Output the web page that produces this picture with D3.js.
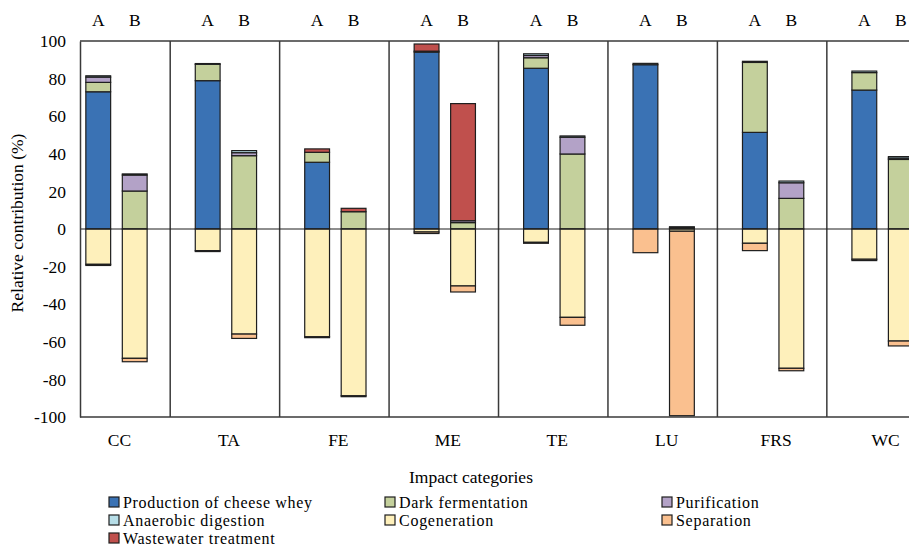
<!DOCTYPE html>
<html>
<head>
<meta charset="utf-8">
<script src="https://cdn.jsdelivr.net/npm/d3@7"></script>
<style>
  html, body { margin: 0; padding: 0; background: #fff; }
  svg { display: block; overflow: hidden; }
</style>
</head>
<body>
<svg id="chart" width="909" height="547"></svg>
<script>
// ---------------- data ----------------
const categories = ["CC", "TA", "FE", "ME", "TE", "LU", "FRS", "WC"];
const scenarios = ["A", "B"];
const yTicks = [-100, -80, -60, -40, -20, 0, 20, 40, 60, 80, 100];

// values per bar, order: CC-A, CC-B, TA-A, TA-B, ... WC-A, WC-B
const cheeseWhey         = [73.0, 0,    78.9, 0,    35.5, 0,    94.1, 0,    85.5, 0,    87.4, 0,     51.4, 0,    73.9, 0];
const darkFermentation   = [5.0,  20.2, 8.7,  39.0, 5.3,  9.2,  0,    3.4,  5.6,  39.9, 0,    0.7,   37.2, 16.3, 9.3,  37.0];
const purification       = [2.8,  8.5,  0,    1.6,  0,    0,    0,    1.0,  1.2,  8.9,  0,    0,     0,    8.3,  0,    0.7];
const anaerobicDigestion = [0.7,  0.6,  0.4,  1.1,  0,    0,    0.5,  0,    0.9,  0.7,  0.7,  0.5,   0.6,  0.9,  0.8,  0.8];
const cogeneration       = [-18.8,-68.8,-11.5,-55.9,-57.3,-88.7,-1.6, -30.3,-7.1, -47.0,0,    -1.2,  -7.6, -74.1,-16.1,-59.6];
const separation         = [-0.6, -1.8, -0.5, -2.3, -0.5, -0.5, -0.8, -3.2, -0.5, -4.2, -12.6,-98.1, -3.9, -1.3, -0.7, -2.6];
const wastewater         = [0,    0,    0,    0,    1.8,  1.8,  3.8,  62.3, 0,    0,    0,    0,     0,    0,    0,    0];

const seriesNames = ["Production of cheese whey", "Dark fermentation", "Purification",
                     "Anaerobic digestion", "Cogeneration", "Separation", "Wastewater treatment"];
const seriesValues = [cheeseWhey, darkFermentation, purification, anaerobicDigestion,
                      cogeneration, separation, wastewater];
const seriesColors = ["#3A72B4", "#C4D09C", "#B3A2C7", "#B7DEE8", "#FEF0BB", "#FAC08F", "#C0504D"];

const yTitle = "Relative contribution (%)";
const xTitle = "Impact categories";

// ---------------- build ----------------
const FONT = "Liberation Serif";
const FS = "17.5px";
const svg = d3.select("#chart");
const slotsPerGroup = 3;
const nSlots = categories.length * slotsPerGroup;
const plotLeft = 80, slotStep = 36.48;

const x = d3.scaleBand()
  .domain(d3.range(nSlots))
  .range([plotLeft, plotLeft + nSlots * slotStep])
  .paddingInner(0.32)
  .paddingOuter(0.16);

const y = d3.scaleLinear().domain([-100, 100]).range([417, 41]);

const rows = [];
categories.forEach((c, i) => {
  scenarios.forEach((s, j) => {
    const k = i * 2 + j;
    const row = { slot: i * slotsPerGroup + j, cat: c, scen: s };
    seriesNames.forEach((n, si) => row[n] = seriesValues[si][k]);
    rows.push(row);
  });
});

const stack = d3.stack().keys(seriesNames).offset(d3.stackOffsetDiverging);
const stacked = stack(rows);

// frame
const frameColor = "#3a3a3a";
svg.append("line").attr("x1", plotLeft).attr("x2", 960).attr("y1", y(100)).attr("y2", y(100))
  .attr("stroke", frameColor).attr("stroke-width", 1.5);
svg.append("line").attr("x1", plotLeft).attr("x2", 960).attr("y1", y(-100)).attr("y2", y(-100))
  .attr("stroke", frameColor).attr("stroke-width", 1.5);

// group separators at the empty slot of each group
categories.forEach((c, i) => {
  const sx = x(i * slotsPerGroup + 2) + x.bandwidth() / 2 - 1;
  svg.append("line").attr("x1", sx).attr("x2", sx).attr("y1", y(100)).attr("y2", y(-100))
    .attr("stroke", frameColor).attr("stroke-width", 1.5);
});

// bars
const gBars = svg.append("g");
stacked.forEach((ser, si) => {
  gBars.append("g")
    .attr("fill", seriesColors[si])
    .selectAll("rect")
    .data(ser.filter(d => Math.abs(d[1] - d[0]) > 1e-9))
    .join("rect")
    .attr("x", d => x(d.data.slot))
    .attr("width", x.bandwidth())
    .attr("y", d => y(Math.max(d[0], d[1])))
    .attr("height", d => Math.abs(y(d[0]) - y(d[1])))
    .attr("stroke", "#1e1e1e")
    .attr("stroke-width", 1.2);
});

// zero line
svg.append("line").attr("x1", plotLeft).attr("x2", 960).attr("y1", y(0)).attr("y2", y(0))
  .attr("stroke", "#1e1e1e").attr("stroke-width", 1.2);

// y axis
const yAxis = d3.axisLeft(y).tickValues(yTicks).tickSize(0).tickPadding(14).tickFormat(d => String(d));
const gy = svg.append("g").attr("transform", `translate(${plotLeft},0)`).call(yAxis);
gy.attr("font-family", null).attr("font-size", null);
gy.select(".domain").attr("stroke", frameColor).attr("stroke-width", 1.5);
gy.selectAll("text").style("font-family", FONT).style("font-size", FS).attr("fill", "#000");

function txt(xp, yp, s, anchor) {
  return svg.append("text")
    .attr("x", xp).attr("y", yp)
    .attr("text-anchor", anchor || "start")
    .attr("fill", "#000")
    .style("font-family", FONT)
    .style("font-size", FS)
    .text(s);
}

// A / B labels on top
rows.forEach(r => txt(x(r.slot) + x.bandwidth() / 2, 26, r.scen, "middle"));

// category labels
categories.forEach((c, i) => {
  const cx = (x(i * slotsPerGroup) + x(i * slotsPerGroup + 1) + x.bandwidth()) / 2;
  txt(cx + 3, 446, c, "middle");
});

// axis titles
txt(0, 0, yTitle, "middle").attr("transform", "translate(23,223) rotate(-90)");
txt(471, 483, xTitle, "middle");

// legend (row-wise, 3 columns); slightly smaller glyphs, same horizontal extent
const legCols = [109, 385, 662];
const legRows = [502, 520, 538];
seriesNames.forEach((n, i) => {
  const cx = legCols[i % 3], cy = legRows[Math.floor(i / 3)];
  svg.append("rect").attr("x", cx).attr("y", cy - 5).attr("width", 10).attr("height", 10)
    .attr("fill", seriesColors[i]).attr("stroke", "#1e1e1e").attr("stroke-width", 1.2);
  const t = txt(cx + 14, cy + 5.5, n);
  const fullLen = t.node().getComputedTextLength();
  t.style("font-size", "16px")
   .attr("textLength", fullLen)
   .attr("lengthAdjust", "spacing");
});
</script>
</body>
</html>
